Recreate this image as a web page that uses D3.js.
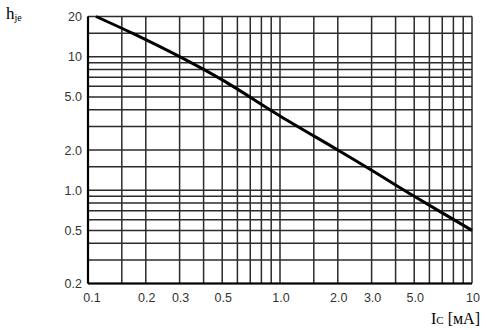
<!DOCTYPE html>
<html>
<head>
<meta charset="utf-8">
<script src="https://cdn.jsdelivr.net/npm/d3@7/dist/d3.min.js"></script>
<style>
  body { margin: 0; background: #fff; }
  svg { display: block; }
</style>
</head>
<body>
<svg id="chart" width="486" height="330"></svg>
<script>
// values
var ic  = [0.11, 0.17, 0.3, 0.5, 1.0, 2.0, 3.0, 5.0, 10];
var hje = [20, 15, 10, 6.7, 3.6, 2.0, 1.41, 0.9, 0.5];

var xTickLabels = [0.1, 0.2, 0.3, 0.5, 1, 2, 3, 5, 10];
var yTickLabels = [20, 10, 5, 2, 1, 0.5, 0.2];

var xGrid = [0.1, 0.15, 0.2, 0.3, 0.4, 0.5, 0.6, 0.7, 0.8, 0.9, 1, 1.5, 2, 3, 4, 5, 6, 7, 8, 9, 10];
var yGrid = [20, 15, 10, 9, 8, 7, 6, 5, 4, 3, 2, 1.5, 1, 0.9, 0.8, 0.7, 0.6, 0.5, 0.4, 0.3, 0.2];

var svg = d3.select("#chart");

var x = d3.scaleLog().domain([0.1, 10]).range([88, 472]);
var y = d3.scaleLog().domain([0.2, 20]).range([283.5, 16.5]);

function fmt(v) {
	if (v >= 10) return String(v);
	if (v >= 1) return v.toFixed(1);
	return String(v);
}

// grid
svg.append("g").selectAll("line")
	.data(xGrid)
	.enter().append("line")
	.attr("x1", function(d) { return x(d); })
	.attr("x2", function(d) { return x(d); })
	.attr("y1", y(20)).attr("y2", y(0.2))
	.attr("stroke", "#2b2b2b").attr("stroke-width", 1.5);

svg.append("g").selectAll("line")
	.data(yGrid)
	.enter().append("line")
	.attr("y1", function(d) { return y(d); })
	.attr("y2", function(d) { return y(d); })
	.attr("x1", x(0.1)).attr("x2", x(10))
	.attr("stroke", "#2b2b2b").attr("stroke-width", 1.5);

// left and bottom frame
svg.append("line")
	.attr("x1", x(0.1)).attr("x2", x(0.1))
	.attr("y1", y(20)).attr("y2", y(0.2))
	.attr("stroke", "#000").attr("stroke-width", 2.2);
svg.append("line")
	.attr("x1", x(0.1)).attr("x2", x(10))
	.attr("y1", y(0.2)).attr("y2", y(0.2))
	.attr("stroke", "#000").attr("stroke-width", 2.2);

// tick labels
svg.append("g").selectAll("text")
	.data(yTickLabels)
	.enter().append("text")
	.attr("x", 82)
	.attr("y", function(d) { return y(d) + 4.5; })
	.attr("text-anchor", "end")
	.attr("font-family", "Liberation Sans, Arial, sans-serif")
	.attr("font-size", 12.5)
	.attr("fill", "#333")
	.text(fmt);

svg.append("g").selectAll("text")
	.data(xTickLabels)
	.enter().append("text")
	.attr("x", function(d) { return x(d) + (d === 0.1 ? 4 : 1); })
	.attr("y", 302)
	.attr("text-anchor", "middle")
	.attr("font-family", "Liberation Sans, Arial, sans-serif")
	.attr("font-size", 12.5)
	.attr("fill", "#333")
	.text(fmt);

// curve
var pts = ic.map(function(d, i) { return [d, hje[i]]; });
var line = d3.line()
	.x(function(d) { return x(d[0]); })
	.y(function(d) { return y(d[1]); })
	.curve(d3.curveCatmullRom.alpha(0.5));

svg.append("path")
	.datum(pts)
	.attr("d", line)
	.attr("fill", "none")
	.attr("stroke", "#000")
	.attr("stroke-width", 3);

// axis titles
var yt = svg.append("text")
	.attr("x", 6).attr("y", 19)
	.attr("font-family", "Liberation Serif, Times New Roman, serif")
	.attr("font-size", 17)
	.attr("fill", "#000")
	.text("h");
yt.append("tspan")
	.attr("font-size", 10)
	.attr("dy", 2)
	.text("je");

var xt = svg.append("text")
	.attr("x", 480).attr("y", 324)
	.attr("text-anchor", "end")
	.attr("font-family", "Liberation Serif, Times New Roman, serif")
	.attr("font-size", 16)
	.attr("fill", "#000");
xt.append("tspan").text("I");
xt.append("tspan").attr("font-size", 11).text("C");
xt.append("tspan").text(" [мA]");
</script>
</body>
</html>
